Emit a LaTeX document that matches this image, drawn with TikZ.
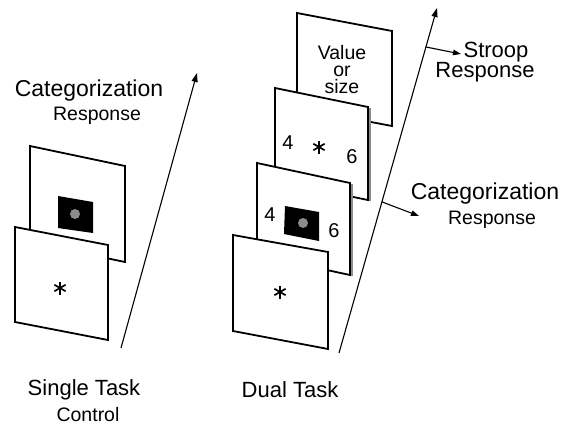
\documentclass[tikz,border=0pt]{standalone}
\usepackage{fontspec}
\setmainfont{Liberation Sans}
\usetikzlibrary{arrows.meta}
\begin{document}
\begin{tikzpicture}[x=1pt,y=-1pt,
  panel/.style={draw=black,line width=1.8pt,fill=white,line join=miter},
  shade/.style={draw=black!45,line width=1.4pt},
  blk/.style={fill=black},
  dot/.style={fill=black!45},
  axis/.style={line width=1.1pt,-{Triangle[length=9pt,width=6pt]}},
  resp/.style={line width=1.1pt,-{Triangle[length=8pt,width=5.5pt]}},
  lab/.style={font=\fontsize{23}{25}\selectfont,inner sep=0pt},
  sub/.style={font=\fontsize{19.5}{21}\selectfont,inner sep=0pt},
  digit/.style={font=\fontsize{20}{20}\selectfont,inner sep=0pt},
  vos/.style={font=\fontsize{19.5}{17}\selectfont,inner sep=0pt,anchor=base},
  starline/.style={line width=1.7pt}]
\useasboundingbox (0,0) rectangle (574,426);
\fill[white] (0,0) rectangle (574,426);

% ---------- Single task ----------
\filldraw[panel] (30,146) -- (125,166) -- (125,262) -- (30,242) -- cycle;
\fill[blk] (58,196) -- (93,202) -- (93,233) -- (58,228) -- cycle;
\fill[dot] (75,214) circle (5);
\filldraw[panel] (15,227) -- (108,245) -- (108,340) -- (15,322) -- cycle;
\foreach \a in {90,30,150} {\draw[starline] (60,288) +(\a:6.5) -- +(\a+180:6.5);}

\coordinate (sA) at (121,348);
\coordinate (sB) at (197,73);
\draw[axis] (sA) -- (sB);

\node[lab] (scat) at (89,91) {Categorization};
\node[sub] (sresp) at (97,116) {Response};
\node[lab,font=\fontsize{22}{24}\selectfont] (single) at (84,390) {Single Task};
\node[sub] (control) at (88,415) {Control};

% ---------- Dual task ----------
% panel 4 (back)
\filldraw[panel] (297,13) -- (392,31) -- (392,126) -- (297,108) -- cycle;
\node[vos] (v1) at (342,59) {Value};
\node[vos] (v2) at (342,76) {or};
\node[vos] (v3) at (342,93) {size};
% panel 3
\draw[shade] (370,108) -- (370,201);
\filldraw[panel] (275,88) -- (368,107) -- (368,200) -- (275,181) -- cycle;
\node[digit] (d4a) at (288,143) {4};
\foreach \a in {90,30,150} {\draw[starline] (319,147) +(\a:6.5) -- +(\a+180:6.5);}
\node[digit] (d6a) at (352,157) {6};
% panel 2
\draw[shade] (352,184) -- (352,276);
\filldraw[panel] (257,163) -- (350,183) -- (350,275) -- (257,255) -- cycle;
\node[digit] (d4b) at (270,215) {4};
\fill[blk] (285,206) -- (319,212) -- (319,241) -- (284,234) -- cycle;
\fill[dot] (303,223) circle (5);
\node[digit] (d6b) at (334,231) {6};
% panel 1 (front)
\filldraw[panel] (233,235) -- (328,252) -- (328,349) -- (233,331) -- cycle;
\foreach \a in {90,30,150} {\draw[starline] (280,292) +(\a:6.5) -- +(\a+180:6.5);}

\coordinate (dA) at (339,353);
\coordinate (dB) at (437,8);
\draw[axis] (dA) -- (dB);
\path (dA) -- (dB) coordinate[pos=0.887] (sx) coordinate[pos=0.438] (cx);
\coordinate (sEnd) at (461,54);
\coordinate (cEnd) at (419,216);
\draw[resp] (sx) -- (sEnd);
\draw[resp] (cx) -- (cEnd);

\node[lab,font=\fontsize{22}{24}\selectfont] (stroop) at (496,52) {Stroop};
\node[lab,font=\fontsize{22}{24}\selectfont] (sresp2) at (485,72) {Response};
\node[lab] (dcat) at (485,194) {Categorization};
\node[sub] (dresp) at (492,220) {Response};
\node[lab,font=\fontsize{22}{24}\selectfont] (dual) at (290,390) {Dual Task};
\end{tikzpicture}
\end{document}
